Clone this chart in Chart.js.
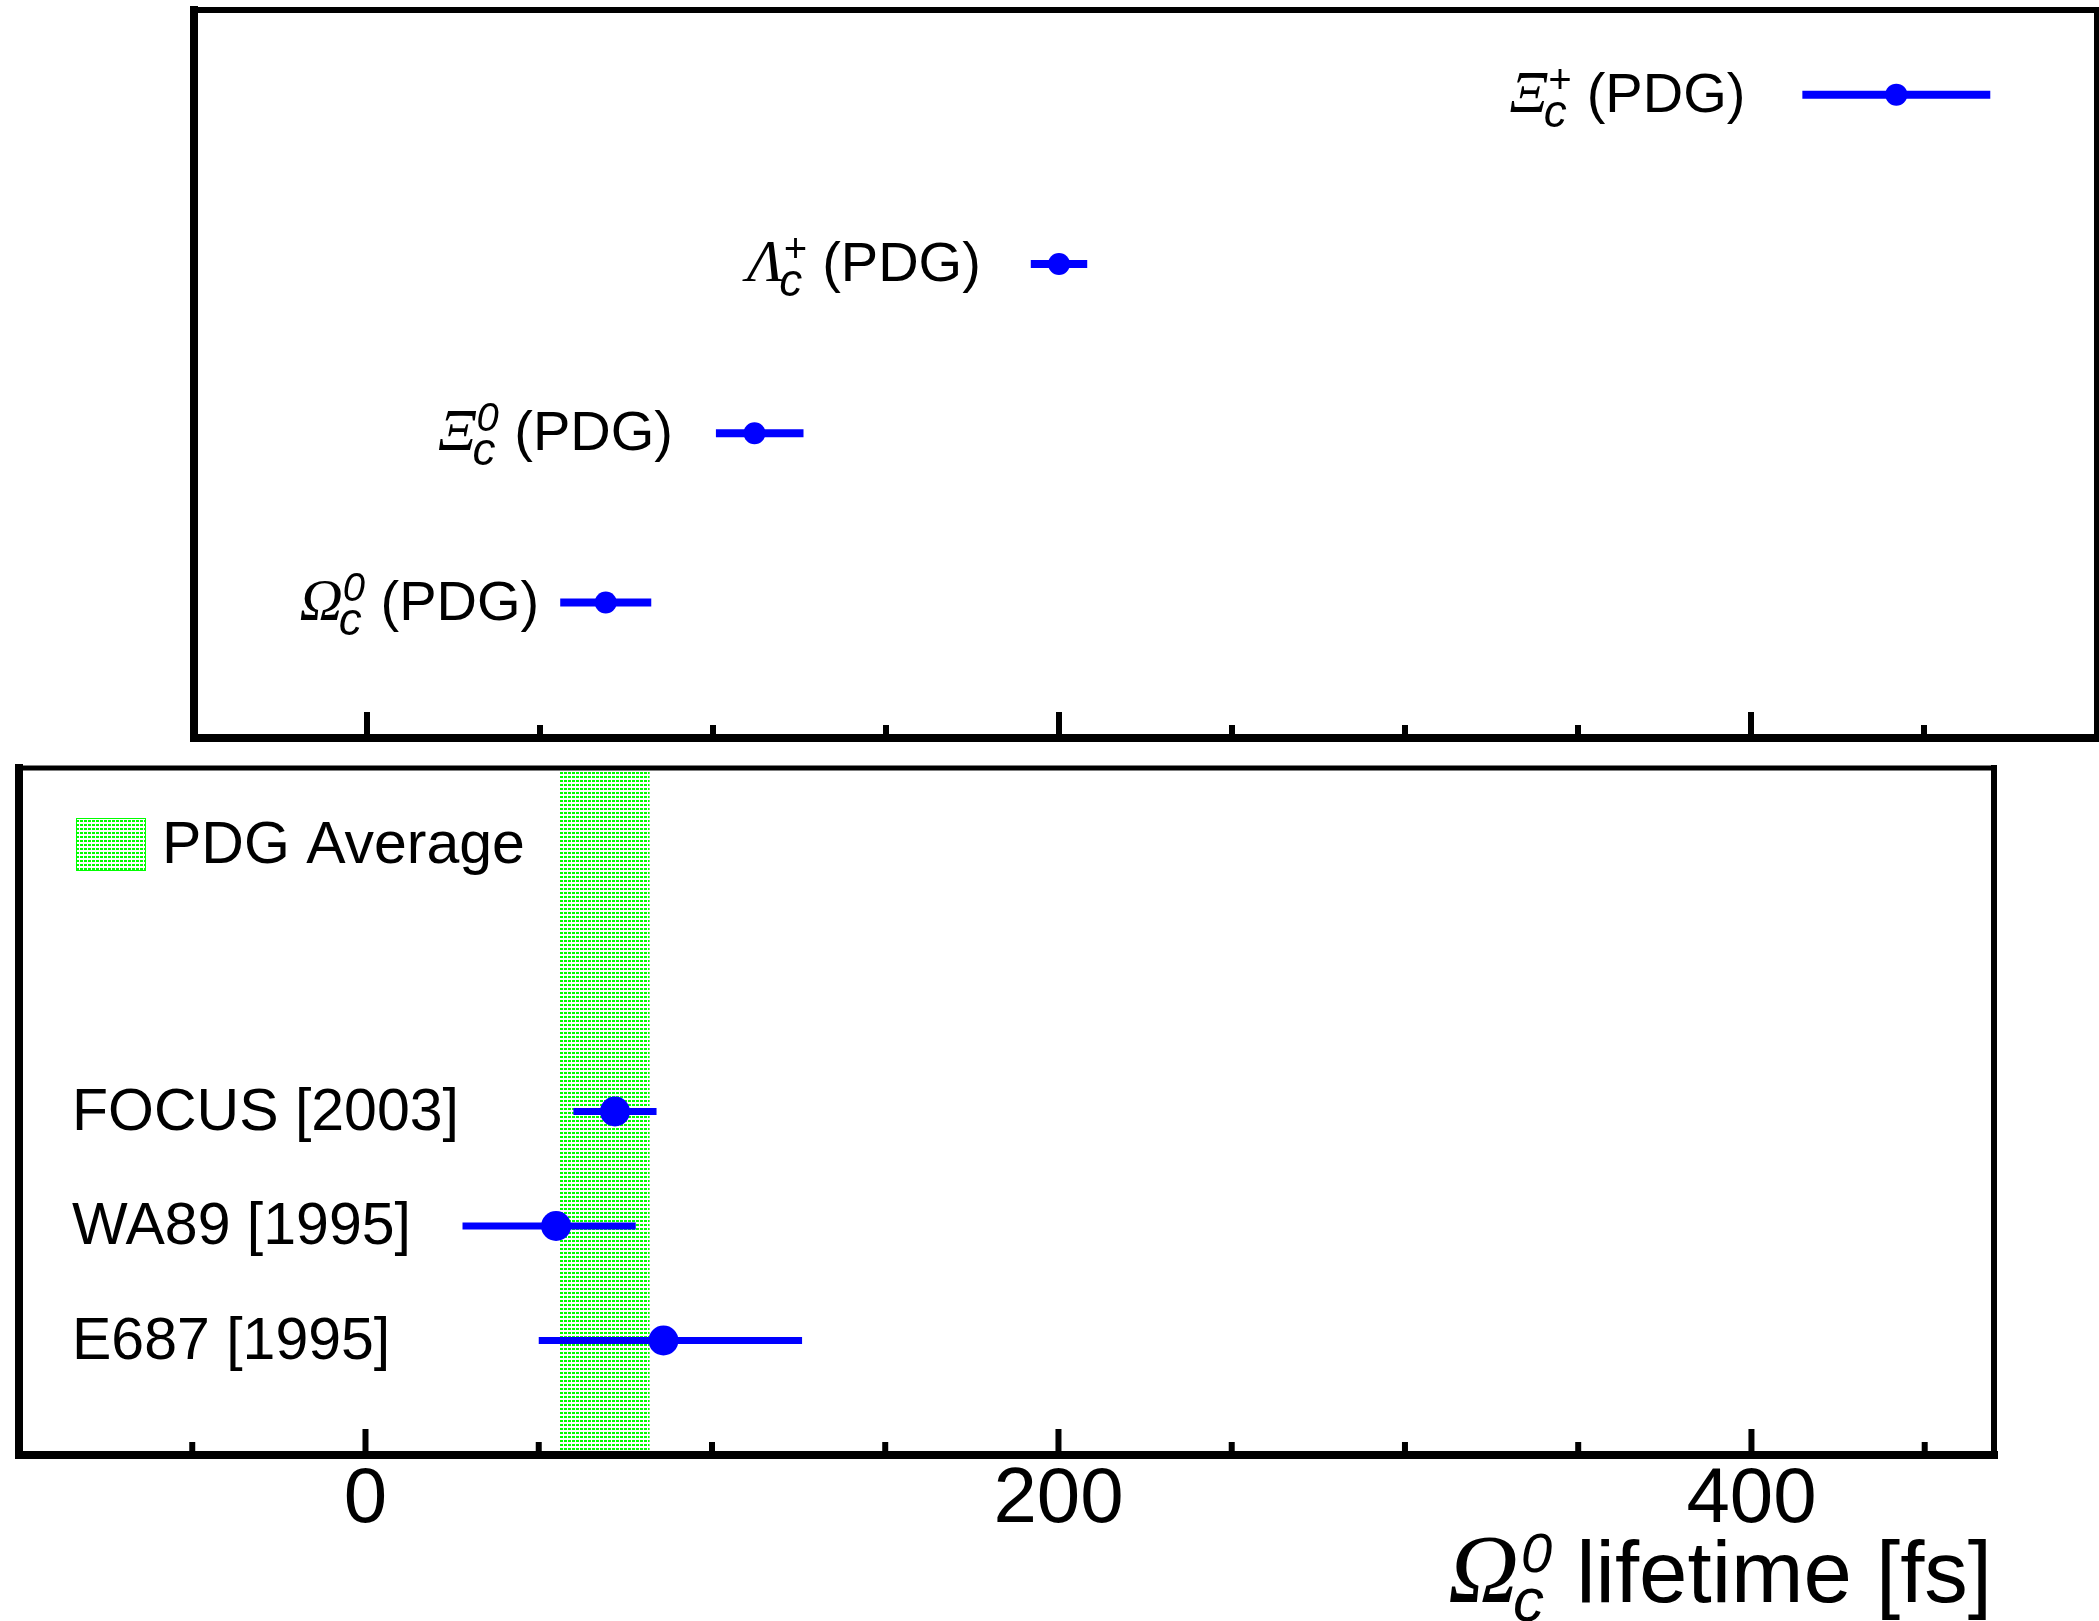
<!doctype html>
<html lang="en">
<head>
<meta charset="utf-8">
<title>Omega_c lifetime</title>
<script src="https://cdn.jsdelivr.net/npm/chart.js@4.4.1/dist/chart.umd.min.js"></script>
<style>
  html, body { margin: 0; padding: 0; background: #fff; }
  body { width: 2099px; height: 1621px; position: relative; overflow: hidden; }
  canvas { position: absolute; left: 0; }
  #topChart { top: 0; }
  #bottomChart { top: 760px; }
</style>
</head>
<body>
<canvas id="topChart" width="2099" height="760"></canvas>
<canvas id="bottomChart" width="2099" height="861"></canvas>
<script>
// PDG lifetimes of the charm baryons [fs], listed from the bottom row up
const pdgSymbol = ['Ω', 'Ξ', 'Λ', 'Ξ'];
const pdgCharge = ['0', '0', '+', '+'];
const pdgLifetime = [69, 112, 200, 442];
const pdgErrLow = [12, 10, 7, 26];
const pdgErrHigh = [12, 13, 7, 26];

// Omega_c0 lifetime measurements, bottom row up
const expNames = ['E687 [1995]', 'WA89 [1995]', 'FOCUS [2003]'];
const expLifetime = [86, 55, 72];
const expErrLow = [36, 27, 12];
const expErrHigh = [40, 23, 12];

// PDG average band
const avgLifetime = 69;
const avgErr = 13;

// x axis ticks
const tickLabels = [0, 200, 400];
const minorTicks = [-50, 50, 100, 150, 250, 300, 350, 450];

const SANS = '"Liberation Sans", Arial, Helvetica, sans-serif';
const SERIF = '"Liberation Serif", "Times New Roman", serif';
const BLUE = '#0000ff';

function dotPattern(ctx) {
  const tile = document.createElement('canvas');
  tile.width = 4;
  tile.height = 4;
  const t = tile.getContext('2d');
  t.fillStyle = '#00ff00';
  t.fillRect(0, 0, 3, 2);
  return ctx.createPattern(tile, 'repeat');
}

function line(ctx, x1, y1, x2, y2, w) {
  ctx.lineWidth = w;
  ctx.beginPath();
  ctx.moveTo(x1, y1);
  ctx.lineTo(x2, y2);
  ctx.stroke();
}

// frame with inward ticks on the lower edge
function drawFrame(chart, w, tickW) {
  const { ctx, chartArea: a, scales: { x } } = chart;
  ctx.save();
  ctx.strokeStyle = '#000';
  ctx.lineCap = 'square';
  line(ctx, a.left, a.top, a.right, a.top, w.top);
  line(ctx, a.right, a.top, a.right, a.bottom, w.right);
  line(ctx, a.left, a.bottom, a.right, a.bottom, w.bottom);
  line(ctx, a.left, a.top, a.left, a.bottom, w.left);
  ctx.lineCap = 'butt';
  const marks = tickLabels.map(v => [v, 26]).concat(minorTicks.map(v => [v, 13]));
  for (const [v, len] of marks) {
    if (v <= x.min || v >= x.max) continue;
    const px = x.getPixelForValue(v);
    line(ctx, px, a.bottom, px, a.bottom - len, tickW);
  }
  ctx.restore();
}

function drawErrorBars(chart, values, lo, hi, width, cap) {
  const { ctx, scales: { x, y } } = chart;
  ctx.save();
  ctx.strokeStyle = BLUE;
  ctx.lineCap = cap;
  values.forEach((v, i) => {
    const py = y.getPixelForValue(i + 1);
    line(ctx, x.getPixelForValue(v - lo[i]), py, x.getPixelForValue(v + hi[i]), py, width);
  });
  ctx.restore();
}

// symbol with subscript c and a superscript charge, followed by plain text
function particleWidth(ctx, sym, sup, rest, s) {
  ctx.font = `italic ${s.greek}px ${SERIF}`;
  const gw = ctx.measureText(sym).width;
  ctx.font = `italic ${s.sub}px ${SANS}`;
  const cw = ctx.measureText('c').width;
  ctx.font = `italic ${s.sup}px ${SANS}`;
  const pw = ctx.measureText(sup).width + s.supShift;
  ctx.font = `${s.main}px ${SANS}`;
  const rw = ctx.measureText(rest).width;
  const sw = Math.max(cw, pw) - s.tuck;
  return { gw, sw, rw, total: gw + sw + rw };
}

function drawParticle(ctx, xRight, base, sym, sup, rest, s) {
  const m = particleWidth(ctx, sym, sup, rest, s);
  let px = xRight - m.total;
  ctx.fillStyle = '#000';
  ctx.textAlign = 'left';
  ctx.textBaseline = 'alphabetic';
  ctx.font = `italic ${s.greek}px ${SERIF}`;
  ctx.fillText(sym, px, base);
  px += m.gw - s.tuck;
  ctx.font = `italic ${s.sub}px ${SANS}`;
  ctx.fillText('c', px, base + s.subDrop);
  ctx.font = `italic ${s.sup}px ${SANS}`;
  ctx.fillText(sup, px + s.supShift, base - s.supRise);
  px += m.sw + s.tuck;
  ctx.font = `${s.main}px ${SANS}`;
  ctx.fillText(rest, px, base);
}

const labelStyle = { greek: 60, sub: 46, sup: 40, main: 56, tuck: 4, subDrop: 15, supRise: 19, supShift: 4 };
const titleStyle = { greek: 98, sub: 62, sup: 56, main: 87, tuck: 6, subDrop: 19, supRise: 30, supShift: 8 };
// gap between each label and the left end of its error bar
const labelGap = [21, 43, 50, 57];

const topPlugin = {
  id: 'pdgRows',
  beforeDatasetsDraw(chart) {
    drawErrorBars(chart, pdgLifetime, pdgErrLow, pdgErrHigh, 8, 'square');
  },
  afterDraw(chart) {
    const { ctx, scales: { x, y } } = chart;
    drawFrame(chart, { top: 6, right: 6, bottom: 8, left: 8 }, 6);
    ctx.save();
    pdgLifetime.forEach((v, i) => {
      const xr = x.getPixelForValue(v - pdgErrLow[i]) - 4 - labelGap[i];
      const base = y.getPixelForValue(i + 1) + 0.716 * labelStyle.main / 2 - 3;
      drawParticle(ctx, xr, base, pdgSymbol[i], pdgCharge[i], ' (PDG)', labelStyle);
    });
    ctx.restore();
  }
};

const bottomPlugin = {
  id: 'measurements',
  beforeDatasetsDraw(chart) {
    const { ctx, chartArea: a, scales: { x } } = chart;
    ctx.save();
    ctx.fillStyle = dotPattern(ctx);
    const x0 = x.getPixelForValue(avgLifetime - avgErr);
    const x1 = x.getPixelForValue(avgLifetime + avgErr);
    ctx.fillRect(x0, a.top, x1 - x0, a.bottom - a.top);
    ctx.restore();
    drawErrorBars(chart, expLifetime, expErrLow, expErrHigh, 7, 'butt');
  },
  afterDraw(chart) {
    const { ctx, chartArea: a, scales: { y } } = chart;
    drawFrame(chart, { top: 5, right: 6, bottom: 8, left: 8 }, 6);
    ctx.save();
    // legend entry
    ctx.fillStyle = dotPattern(ctx);
    ctx.fillRect(a.left + 57, a.top + 50, 70, 53);
    ctx.strokeStyle = '#00ff00';
    ctx.lineWidth = 1;
    ctx.strokeRect(a.left + 57.5, a.top + 50.5, 69, 52);
    ctx.fillStyle = '#000';
    ctx.font = `59px ${SANS}`;
    ctx.textAlign = 'left';
    ctx.textBaseline = 'alphabetic';
    ctx.fillText('PDG Average', a.left + 143, a.top + 95);
    // experiment names
    expNames.forEach((name, i) => {
      ctx.fillText(name, 72, y.getPixelForValue(i + 1) + 0.716 * 59 / 2 - 3);
    });
    // axis title
    drawParticle(ctx, a.right - 2, 842, 'Ω', '0', ' lifetime [fs]', titleStyle);
    ctx.restore();
  }
};

new Chart(document.getElementById('topChart'), {
  type: 'scatter',
  data: {
    datasets: [{
      data: pdgLifetime.map((v, i) => ({ x: v, y: i + 1 })),
      pointRadius: 11,
      pointBackgroundColor: BLUE,
      pointBorderWidth: 0
    }]
  },
  options: {
    responsive: false,
    animation: false,
    devicePixelRatio: 1,
    layout: { autoPadding: false, padding: { left: 194, right: 2, top: 10, bottom: 22 } },
    scales: {
      x: { type: 'linear', min: -50, max: 500, display: false },
      y: { type: 'linear', min: 0.2, max: 4.5, display: false }
    },
    plugins: { legend: { display: false }, tooltip: { enabled: false } }
  },
  plugins: [topPlugin]
});

new Chart(document.getElementById('bottomChart'), {
  type: 'scatter',
  data: {
    datasets: [{
      data: expLifetime.map((v, i) => ({ x: v, y: i + 1 })),
      pointRadius: 15,
      pointBackgroundColor: BLUE,
      pointBorderWidth: 0
    }]
  },
  options: {
    responsive: false,
    animation: false,
    devicePixelRatio: 1,
    layout: { autoPadding: false, padding: { left: 19, right: 105, top: 8, bottom: 0 } },
    scales: {
      x: {
        type: 'linear',
        min: -100,
        max: 470,
        afterBuildTicks: s => { s.ticks = tickLabels.map(v => ({ value: v })); },
        afterFit: s => { s.height = 166; },
        grid: { display: false },
        border: { display: false },
        ticks: {
          color: '#000',
          font: { family: SANS, size: 78 },
          padding: -9,
          maxRotation: 0,
          autoSkip: false
        }
      },
      y: { type: 'linear', min: 0, max: 6, display: false }
    },
    plugins: { legend: { display: false }, tooltip: { enabled: false } }
  },
  plugins: [bottomPlugin]
});
</script>
</body>
</html>
